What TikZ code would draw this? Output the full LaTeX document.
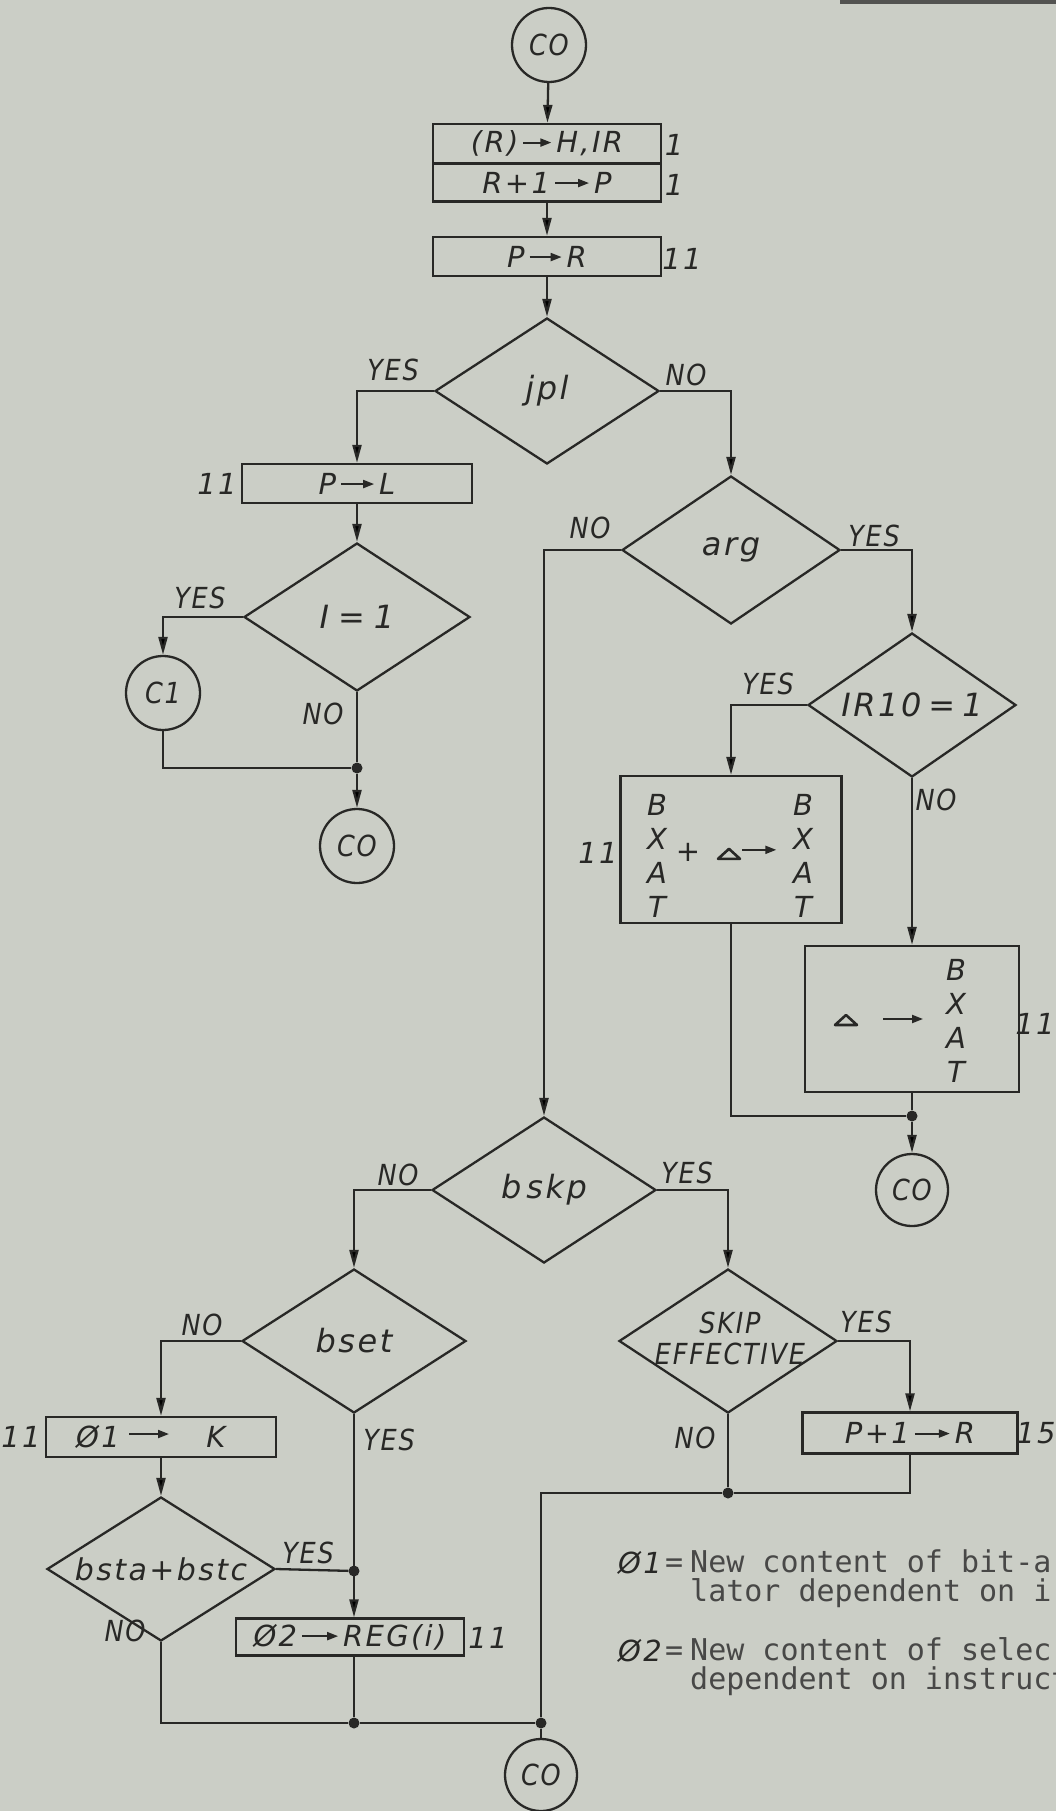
\documentclass[tikz,border=0pt]{standalone}
\usepackage{fontspec}
\usetikzlibrary{shapes.geometric,arrows.meta}
\newfontfamily\lbl{DejaVu Sans}[LetterSpace=8]
\newfontfamily\lblc{DejaVu Sans}[FakeStretch=0.88,LetterSpace=6]
\newfontfamily\monof{DejaVu Sans Mono}
\definecolor{paper}{RGB}{203,206,198}
\definecolor{ink}{RGB}{40,40,38}
\newcommand\tarr[1]{\tikz[baseline=-10pt]\draw[draw=ink,line width=2pt,-{Triangle[length=11pt,width=8pt]}](0pt,0pt)--(#1pt,0pt);}
\newcommand\tri{\tikz[baseline=0pt]\draw[draw=ink,line width=2.6pt,line join=round](0pt,1pt)--(22pt,1pt)--(11pt,11pt)--cycle;}
\newcommand\ga{\hspace{4pt}}
\tikzset{
  txt/.style={font=\lbl\itshape\fontsize{29}{34}\selectfont, text=ink, inner sep=0pt},
  ctxt/.style={font=\lblc\itshape\fontsize{29}{31}\selectfont, text=ink, inner sep=0pt},
  dtxt/.style={font=\lbl\itshape\fontsize{32}{34}\selectfont, text=ink, inner sep=0pt},
  ln/.style={draw=ink, line width=2.3pt},
  arr/.style={ln, -{Triangle[length=18pt,width=9pt]}},
  proc/.style={txt, draw=ink, line width=2.3pt, rectangle, minimum width=228pt, minimum height=39pt},
  dec/.style={dtxt, draw=ink, line width=2.3pt, diamond, aspect=1.5},
  conn/.style={ctxt, draw=ink, line width=2.3pt, circle, minimum size=74pt},
  dot/.style={circle, fill=ink, inner sep=0pt, minimum size=11pt},
  note/.style={font=\monof\fontsize{30}{34}\selectfont, text=ink!85, inner sep=0pt, anchor=base west}
}
\begin{document}
\begin{tikzpicture}[x=1pt,y=-1pt]
\useasboundingbox (0,0) rectangle (1056,1811);
\fill[paper] (0,0) rectangle (1056,1811);
\fill[ink!80] (840,0) rectangle (1056,4);

% top
\node[conn] (co1) at (549,45) {CO};
\node[proc] (b1a) at (547,143.5) {(R)\ga\tarr{28}\ga H,IR};
\node[proc, minimum height=38pt] (b1b) at (547,182.5) {R+1\ga\tarr{34}\ga P};
\node[txt] (l1a) at (674,145) {1};
\node[txt] (l1b) at (674,185) {1};
\node[proc] (b2) at (547,256.5) {P\ga\tarr{32}\ga R};
\node[txt] (l2) at (682,259) {11};

\node[dec, minimum width=224pt, minimum height=146pt] (jpl) at (547,391) {jpl};
\node[ctxt] (y1) at (393,370) {YES};
\node[ctxt] (n1) at (686,375) {NO};

% left branch
\node[proc, minimum width=230pt] (pl) at (357,483.5) {P\ga\tarr{33}\ga L};
\node[txt] (l3) at (217,484) {11};
\node[dec, minimum width=226pt, minimum height=148pt] (i1) at (357,617) {I\hspace{9pt}=\hspace{9pt}1};
\node[ctxt] (y2) at (200,598) {YES};
\node[ctxt] (n2) at (323,714) {NO};
\node[conn] (c1) at (163,693) {C1};
\node[dot] (ja) at (357,768) {};
\node[conn] (co2) at (357,846) {CO};

% right branch
\node[dec, minimum width=218pt, minimum height=148pt] (arg) at (731,550) {arg};
\node[ctxt] (n3) at (590,528) {NO};
\node[ctxt] (y3) at (874,536) {YES};
\node[dec, minimum width=208pt, minimum height=144pt] (ir) at (912,705) {IR10\hspace{7pt}=\hspace{7pt}1};
\node[ctxt] (y4) at (768,684) {YES};
\node[ctxt] (n4) at (936,800) {NO};

\node[draw=ink, line width=2.3pt, rectangle, minimum width=221pt, minimum height=147pt] (bx1) at (731,849.5) {};
\node[txt] (l4) at (598,853) {11};
\node[txt, align=center] (bx1l) at (657,856) {B\\X\\A\\T};
\node[txt] (bx1p) at (688,852) {+};
\node[txt] (bx1m) at (747,853) {\tri\tarr{34}};
\node[txt, align=center] (bx1r) at (803,856) {B\\X\\A\\T};

\node[draw=ink, line width=2.3pt, rectangle, minimum width=214pt, minimum height=146pt] (bx2) at (912,1019) {};
\node[txt] (l5) at (1035,1024) {11};
\node[txt] (bx2t) at (846,1020) {\tri};
\node[txt] (bx2a) at (903,1022) {\tarr{40}};
\node[txt, align=center] (bx2r) at (956,1021) {B\\X\\A\\T};
\node[dot] (jb) at (912,1116) {};
\node[conn, minimum size=72pt] (co3) at (912,1190) {CO};

% lower part
\node[dec, minimum width=224pt, minimum height=146pt] (bskp) at (544,1190) {b\hspace{5pt}skp};
\node[ctxt] (n5) at (398,1175) {NO};
\node[ctxt] (y5) at (687,1173) {YES};

\node[dec, minimum width=224pt, minimum height=144pt] (bset) at (354,1341) {bset};
\node[ctxt] (n6) at (202,1325) {NO};
\node[ctxt] (y6) at (389,1440) {YES};
\node[proc, minimum width=230pt, minimum height=40pt] (k) at (161,1437) {};
\node[txt] (kt1) at (98,1437) {Ø1};
\node[txt] (kta) at (149,1437) {\tarr{40}};
\node[txt] (ktk) at (216,1437) {K};
\node[txt] (l6) at (21,1437) {11};
\node[dec, minimum width=228pt, minimum height=144pt, font=\lbl\itshape\fontsize{30}{32}\selectfont] (bsta) at (161,1569) {bsta+bstc};
\node[ctxt] (y7) at (308,1553) {YES};
\node[ctxt] (n7) at (125,1631) {NO};
\node[dot] (jc) at (354,1571) {};
\node[proc, minimum height=37pt] (r2) at (350,1637) {Ø2\ga\tarr{36}\ga REG(i)};
\node[txt] (l7) at (488,1638) {11};
\node[dot] (jd) at (354,1723) {};
\node[dot] (je) at (541,1723) {};
\node[conn, minimum size=72pt] (co4) at (541,1775) {CO};

\node[draw=ink, line width=2.3pt, diamond, minimum width=218pt, minimum height=144pt, inner sep=0pt] (skip) at (728,1341) {};
\node[ctxt, align=center] (skipt) at (730,1338) {SKIP\\EFFECTIVE};
\node[ctxt] (y8) at (866,1322) {YES};
\node[ctxt] (n8) at (695,1438) {NO};
\node[proc, minimum width=215pt, minimum height=41pt] (pr) at (910,1433) {P+1\ga\tarr{35}\ga R};
\node[txt] (l8) at (1036,1433) {15};
\node[dot] (jf) at (728,1493) {};

% footnotes
\node[txt, anchor=base east] (f1s) at (662,1573) {Ø1};
\node[note] (f1e) at (665,1572) {=};
\node[note] (f1a) at (690,1572) {New content of bit-a};
\node[note] (f1b) at (690,1601) {lator dependent on i};
\node[txt, anchor=base east] (f2s) at (662,1661) {Ø2};
\node[note] (f2e) at (665,1660) {=};
\node[note] (f2a) at (690,1660) {New content of selec};
\node[note] (f2b) at (690,1689) {dependent on instruct};

% connectors
\draw[arr] (co1) -- (b1a);
\draw[arr] (b1b) -- (b2);
\draw[arr] (b2) -- (jpl);
\draw[arr] (jpl.west) -| (pl.north);
\draw[arr] (pl) -- (i1);
\draw[arr] (i1.west) -| (c1.north);
\draw[ln] (c1.south) |- (ja);
\draw[ln] (i1.south) -- (ja);
\draw[arr] (ja) -- (co2);
\draw[arr] (jpl.east) -| (arg.north);
\draw[arr] (arg.east) -| (ir.north);
\draw[arr] (arg.west) -| (bskp.north);
\draw[arr] (ir.west) -| (bx1.north);
\draw[arr] (ir.south) -- (bx2.north);
\draw[ln] (bx1.south) |- (jb);
\draw[ln] (bx2.south) -- (jb);
\draw[arr] (jb) -- (co3);
\draw[arr] (bskp.west) -| (bset.north);
\draw[arr] (bskp.east) -| (skip.north);
\draw[arr] (bset.west) -| (k.north);
\draw[arr] (k) -- (bsta);
\draw[arr] (bset.south) -- (bset.south |- r2.north);
\draw[ln] (bsta.east) -- (jc);
\draw[ln] (bsta.south) |- (jd);
\draw[ln] (bset.south |- r2.south) -- (jd);
\draw[ln] (jd) -- (je);
\draw[arr] (skip.east) -| (pr.north);
\draw[ln] (skip.south) -- (jf);
\draw[ln] (pr.south) |- (jf);
\draw[ln] (jf) -| (je);
\draw[ln] (je) -- (co4);
\end{tikzpicture}
\end{document}
